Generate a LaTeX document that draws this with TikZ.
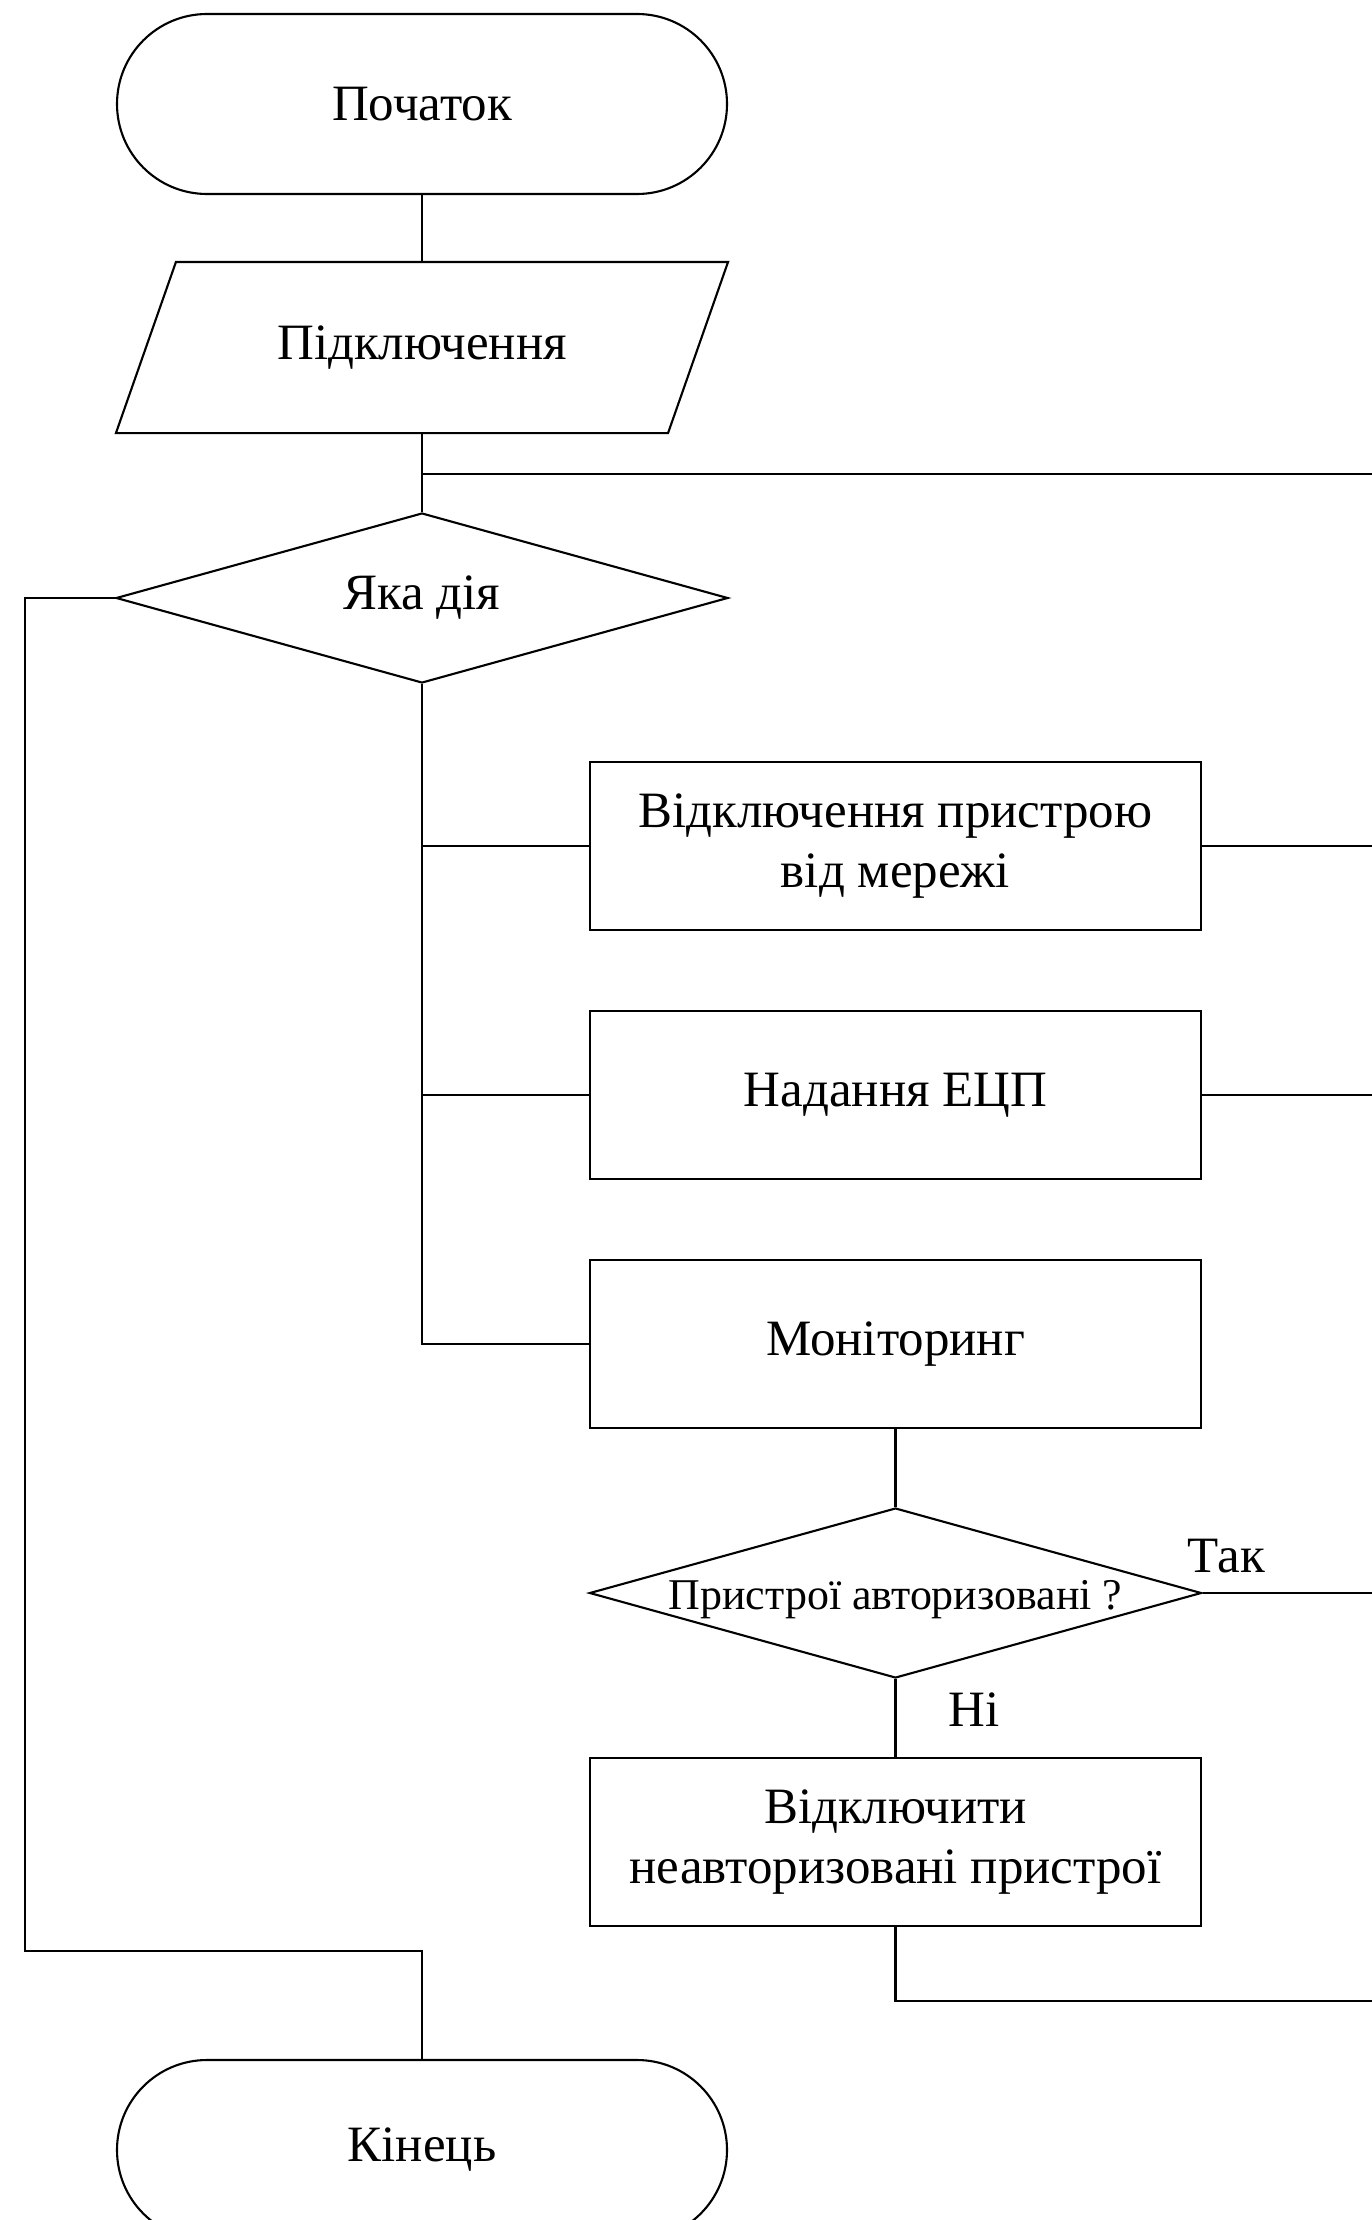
\documentclass[tikz,border=0pt]{standalone}
\usepackage{fontspec}
\setmainfont{Liberation Serif}
\usetikzlibrary{shapes.geometric}

\begin{document}
\begin{tikzpicture}[line width=0.6pt,
    every node/.style={font=\fontsize{14.5}{17}\selectfont},
    term/.style={draw,rectangle,rounded corners=0.9cm,minimum width=6.1cm,minimum height=1.8cm},
    io/.style={minimum width=5.5cm,minimum height=1.69cm},
    proc/.style={draw,minimum width=6.11cm,minimum height=1.68cm,align=center},
    cond/.style={draw,diamond,aspect=3.6,minimum width=6.12cm,minimum height=1.7cm,inner sep=0pt}]
    \useasboundingbox (0,0) rectangle (13.72,-22.20);
    \coordinate (edge) at (13.72,0);
    \node[term] (start) at (4.22,-1.04) {Початок};
    \node[io] (conn) at (4.22,-3.475) {Підключення};
    \draw ([xshift=0.3cm]conn.north west) -- ([xshift=0.3cm]conn.north east)
        -- ([xshift=-0.3cm]conn.south east) -- ([xshift=-0.3cm]conn.south west) -- cycle;
    \node[cond] (act) at (4.22,-5.98) {Яка дія};
    \node[proc] (off) at (8.955,-8.46) {Відключення пристрою\\від мережі};
    \node[proc] (sign) at (8.955,-10.95) {Надання ЕЦП};
    \node[proc] (mon) at (8.955,-13.44) {Моніторинг};
    \node[cond] (auth) at (8.955,-15.93) {};
    \node[font=\fontsize{12.5}{15}\selectfont,anchor=base,yshift=-0.16cm] (authtext) at (auth) {Пристрої авторизовані ?};
    \node[proc] (kick) at (8.955,-18.42) {Відключити\\неавторизовані пристрої};
    \node[term] (finish) at (4.22,-21.50) {Кінець};
    % free ends of the loops
    \coordinate (join) at (4.22,-4.74);
    \coordinate (lft) at (0.25,-19.51);
    \coordinate (back) at (13.72,-20.01);
    \draw (start) -- (conn);
    \draw (conn) -- (act);
    \draw (join) -- (join -| edge);
    \draw (act.south) |- (mon.west);
    \draw (off.west) -- (off.west -| act.south);
    \draw (sign.west) -- (sign.west -| act.south);
    \draw (off.east) -- (off.east -| edge);
    \draw (sign.east) -- (sign.east -| edge);
    \draw (mon) -- (auth);
    \draw (auth.east) -- node[pos=0,anchor=base west,inner sep=0pt,xshift=-0.16cm,yshift=0.21cm] (yes) {Так} (auth.east -| edge);
    \draw (auth) -- node[anchor=west,xshift=0.4cm,yshift=0.08cm] (no) {Ні} (kick);
    \draw (kick.south) |- (back);
    \draw (act.west) -| (lft) -| (finish.north);
\end{tikzpicture}
\end{document}
